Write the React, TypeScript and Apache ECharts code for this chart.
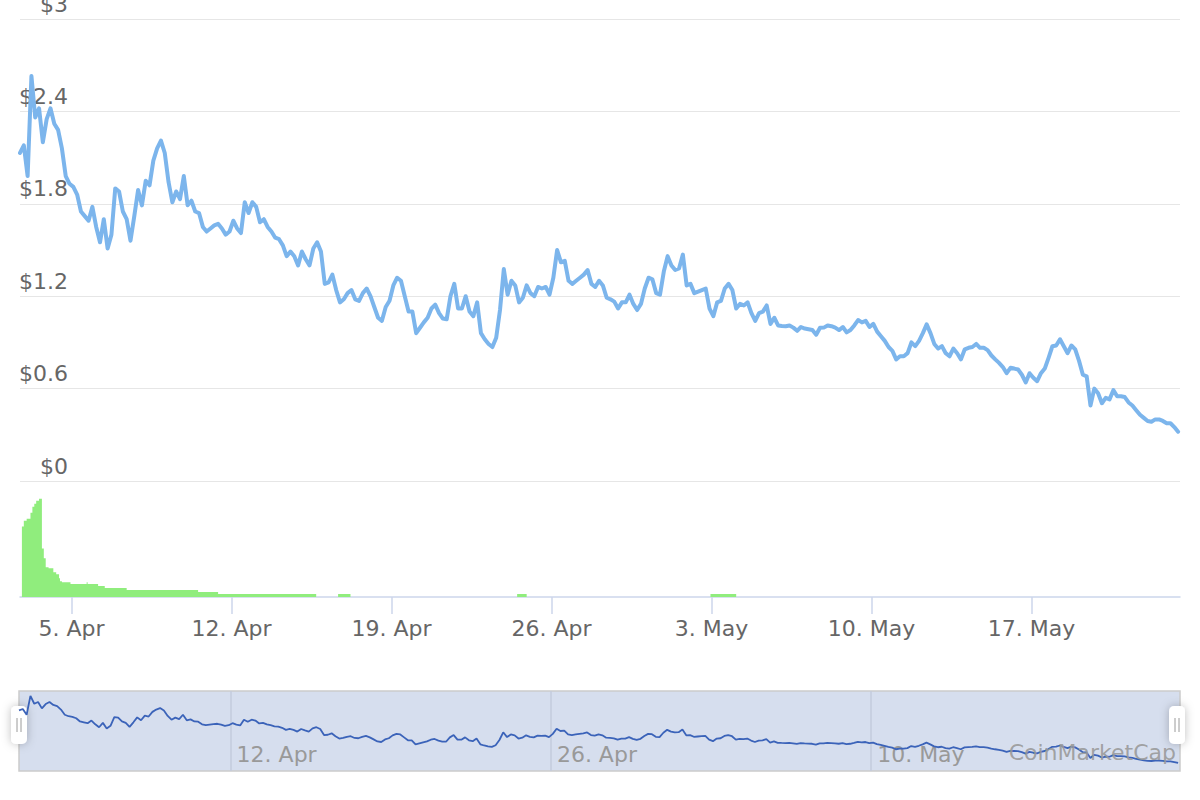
import React, { useEffect, useRef } from "react";
import * as echarts from "echarts";

const HOUR = 3600000;
const START = Date.UTC(2021, 3, 2, 18);
const STEP_HOURS = 4;
const END_HOURS = 1218;
const MONTHS = ["Jan", "Feb", "Mar", "Apr", "May", "Jun", "Jul", "Aug", "Sep", "Oct", "Nov", "Dec"];

// price in USD, one value every 4 hours from 2 Apr 18:00 UTC
const prices = [
  2.13, 2.18, 1.98, 2.63, 2.36, 2.42, 2.2, 2.35, 2.42, 2.32,
  2.28, 2.16, 1.98, 1.93, 1.91, 1.86, 1.75, 1.72, 1.69, 1.78,
  1.65, 1.55, 1.7, 1.51, 1.6, 1.9, 1.88, 1.75, 1.7, 1.56,
  1.72, 1.89, 1.79, 1.95, 1.92, 2.08, 2.16, 2.21, 2.13, 1.94,
  1.81, 1.88, 1.83, 1.98, 1.79, 1.82, 1.75, 1.74, 1.65, 1.62,
  1.64, 1.66, 1.67, 1.64, 1.6, 1.62, 1.69, 1.64, 1.61, 1.81,
  1.74, 1.81, 1.78, 1.68, 1.7, 1.65, 1.62, 1.58, 1.57, 1.53,
  1.46, 1.49, 1.46, 1.4, 1.49, 1.44, 1.4, 1.51, 1.55, 1.49,
  1.28, 1.29, 1.34, 1.24, 1.16, 1.18, 1.22, 1.24, 1.18, 1.17,
  1.22, 1.25, 1.2, 1.13, 1.06, 1.04, 1.13, 1.17, 1.27, 1.32,
  1.3, 1.2, 1.1, 1.1, 0.96, 0.995, 1.03, 1.06, 1.12, 1.145,
  1.09, 1.055, 1.05, 1.2, 1.28, 1.12, 1.12, 1.2, 1.1, 1.07,
  1.16, 0.96, 0.92, 0.89, 0.87, 0.93, 1.11, 1.376, 1.21, 1.3,
  1.27, 1.16, 1.19, 1.27, 1.22, 1.2, 1.26, 1.25, 1.26, 1.21,
  1.32, 1.5, 1.42, 1.43, 1.3, 1.28, 1.3, 1.32, 1.34, 1.37,
  1.28, 1.26, 1.3, 1.27, 1.19, 1.18, 1.165, 1.12, 1.16, 1.16,
  1.21, 1.15, 1.11, 1.15, 1.25, 1.32, 1.31, 1.22, 1.21, 1.36,
  1.46, 1.4, 1.37, 1.38, 1.47, 1.27, 1.28, 1.22, 1.23, 1.24,
  1.25, 1.12, 1.07, 1.16, 1.17, 1.25, 1.28, 1.24, 1.12, 1.15,
  1.14, 1.16, 1.09, 1.04, 1.09, 1.1, 1.14, 1.02, 1.06, 1.01,
  1.007, 1.005, 1.01, 0.996, 0.975, 1.0, 0.99, 0.985, 0.98, 0.95,
  0.995, 0.996, 1.01, 1.005, 0.996, 0.98, 1.0, 0.965, 0.98, 1.01,
  1.045, 1.03, 1.04, 1.0, 1.02, 0.97, 0.94, 0.91, 0.87, 0.845,
  0.79, 0.81, 0.81, 0.83, 0.9, 0.876, 0.91, 0.96, 1.017, 0.96,
  0.89, 0.86, 0.876, 0.83, 0.81, 0.86, 0.83, 0.79, 0.855, 0.865,
  0.87, 0.89, 0.865, 0.865, 0.85, 0.815, 0.79, 0.767, 0.74, 0.7,
  0.735, 0.73, 0.724, 0.69, 0.64, 0.7, 0.67, 0.648, 0.7, 0.73,
  0.8, 0.875, 0.88, 0.92, 0.875, 0.83, 0.88, 0.855, 0.78, 0.69,
  0.68, 0.49, 0.6, 0.57, 0.505, 0.54, 0.53, 0.59, 0.55, 0.55,
  0.545, 0.51, 0.49, 0.46, 0.43, 0.41, 0.39, 0.385, 0.4, 0.4,
  0.39, 0.375, 0.375, 0.35, 0.32,
];

// volume (M USD), step changes at hour offsets from start
const volumeHours = [2, 4, 7, 11, 13, 15, 17, 20, 23, 25, 27, 30, 35, 38, 41, 42, 44, 53, 70, 71, 82, 89, 112, 187, 208, 311, 334, 347, 522, 532, 725, 752, 1218];
const volumeValues = [71, 77, 79, 85, 91, 94, 97, 99, 49, 39, 30, 29, 25, 23, 19, 16, 15, 13, 15, 13, 11, 9, 7, 5, 3, 0, 3, 0, 3, 0, 3, 0, 0];

const mainTicks = [Date.UTC(2021, 3, 5), Date.UTC(2021, 3, 12), Date.UTC(2021, 3, 19), Date.UTC(2021, 3, 26), Date.UTC(2021, 4, 3), Date.UTC(2021, 4, 10), Date.UTC(2021, 4, 17)];
const navTicks = [Date.UTC(2021, 3, 12), Date.UTC(2021, 3, 26), Date.UTC(2021, 4, 10)];

const FONT = "DejaVu Sans";

const fmtDate = (v: number) => {
  const d = new Date(v);
  return `${d.getUTCDate()}. ${MONTHS[d.getUTCMonth()]}`;
};

const handle = (x: number) => ({
  type: "group",
  x,
  y: 725,
  z: 100,
  children: [
    {
      type: "rect",
      shape: { x: -8, y: -19, width: 16, height: 38, r: 5 },
      style: { fill: "#ffffff", shadowBlur: 10, shadowColor: "rgba(0,0,0,0.25)" },
    },
    { type: "line", shape: { x1: -2, y1: -7, x2: -2, y2: 7 }, style: { stroke: "#9a9a9a", lineWidth: 1 } },
    { type: "line", shape: { x1: 2, y1: -7, x2: 2, y2: 7 }, style: { stroke: "#9a9a9a", lineWidth: 1 } },
  ],
});

const App: React.FC = () => {
  const chartRef = useRef<HTMLDivElement>(null);

  useEffect(() => {
    if (!chartRef.current) return;
    const myChart = echarts.init(chartRef.current, null, { renderer: "svg" });

    const priceData = prices.map((p, i) => [START + i * STEP_HOURS * HOUR, p]);
    const volumeData = volumeHours.map((h, i) => [START + h * HOUR, volumeValues[i]]);
    const xMin = START;
    const xMax = START + END_HOURS * HOUR;

    const option: any = {
      animation: false,
      backgroundColor: "#ffffff",
      textStyle: { fontFamily: FONT },
      grid: [
        { left: 20, right: 20, top: 19, height: 462, outerBoundsMode: "none" },
        { left: 20, right: 20, top: 482, height: 115, outerBoundsMode: "none" },
        {
          left: 19, right: 20, top: 691, height: 80, show: true, outerBoundsMode: "none",
          backgroundColor: "rgba(102,133,194,0.27)", borderColor: "#cccccc", borderWidth: 1.5,
        },
      ],
      xAxis: [
        { type: "value", gridIndex: 0, min: xMin, max: xMax, show: false },
        {
          type: "value", gridIndex: 1, min: xMin, max: xMax,
          axisLine: { lineStyle: { color: "#ccd6eb", width: 1.5 } },
          axisTick: { show: true, customValues: mainTicks, length: 17, lineStyle: { color: "#ccd6eb", width: 1.5 } },
          axisLabel: {
            customValues: mainTicks, formatter: fmtDate, color: "#666666", fontSize: 22,
            fontFamily: FONT, margin: 20,
          },
          splitLine: { show: false },
        },
        {
          type: "value", gridIndex: 2, min: xMin, max: xMax,
          axisLine: { show: false },
          axisTick: { show: true, inside: true, customValues: navTicks, length: 80, lineStyle: { color: "#c3cbdd", width: 1.5 } },
          axisLabel: {
            inside: true, customValues: navTicks, formatter: fmtDate, color: "#999999", fontSize: 22,
            fontFamily: FONT, align: "left", verticalAlign: "bottom", padding: [0, 0, 0, 6], margin: 6,
          },
          splitLine: { show: false },
        },
      ],
      yAxis: [
        {
          type: "value", gridIndex: 0, min: 0, max: 3, interval: 0.6,
          axisLine: { show: false }, axisTick: { show: false },
          splitLine: { lineStyle: { color: "#e6e6e6", width: 1.2 } },
          axisLabel: {
            inside: true, margin: 48, align: "right", verticalAlign: "bottom",
            padding: [0, 0, 4, 0], color: "#666666", fontSize: 22, fontFamily: FONT,
            formatter: (v: number) => "$" + v,
          },
        },
        { type: "value", gridIndex: 1, min: 0, max: 116, show: false },
        { type: "value", gridIndex: 2, min: 0.04, max: 2.8, show: false },
      ],
      series: [
        {
          name: "Price", type: "line", xAxisIndex: 0, yAxisIndex: 0, data: priceData,
          symbol: "none", lineStyle: { color: "#7cb5ec", width: 4, join: "round", cap: "round" },
        },
        {
          name: "Volume", type: "line", xAxisIndex: 1, yAxisIndex: 1, data: volumeData, step: "end",
          symbol: "none", lineStyle: { width: 0 }, areaStyle: { color: "#90ed7d", opacity: 1 },
        },
        {
          name: "Navigator", type: "line", xAxisIndex: 2, yAxisIndex: 2, data: priceData,
          symbol: "none", lineStyle: { color: "#3b63b9", width: 1.8 },
        },
      ],
      graphic: [
        {
          type: "text", x: 1176, y: 752, z: 50,
          style: {
            text: "CoinMarketCap", fill: "rgba(153,153,153,0.9)", fontSize: 22, fontFamily: FONT,
            textAlign: "right", textVerticalAlign: "middle",
          },
        },
        handle(19),
        handle(1177),
      ],
    };

    myChart.setOption(option);

    return () => {
      myChart.dispose();
    };
  }, []);

  return (
    <div
      ref={chartRef}
      style={{ position: "fixed", left: 0, top: 0, width: 1200, height: 800 }}
    />
  );
};

export default App;
